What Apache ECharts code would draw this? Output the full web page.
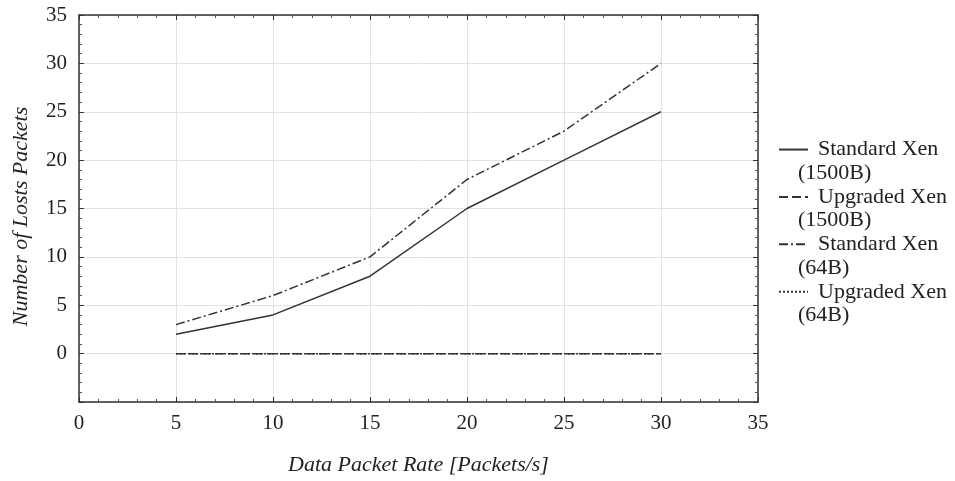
<!DOCTYPE html>
<html><head><meta charset="utf-8">
<script src="https://cdn.jsdelivr.net/npm/echarts@6/dist/echarts.min.js"></script>
<style>html,body{margin:0;padding:0;background:#fff}#c{width:955px;height:481px}</style>
</head><body><div id="c"></div>
<script>
const xValues = [5, 10, 15, 20, 25, 30];
const standard1500 = [2, 4, 8, 15, 20, 25];
const upgraded1500 = [0, 0, 0, 0, 0, 0];
const standard64 = [3, 6, 10, 18, 23, 30];
const upgraded64 = [0, 0, 0, 0, 0, 0];
const seriesNames = ['Standard Xen (1500B)', 'Upgraded Xen (1500B)', 'Standard Xen (64B)', 'Upgraded Xen (64B)'];
const xTitle = 'Data Packet Rate [Packets/s]';
const yTitle = 'Number of Losts Packets';

const FONT = 'Liberation Serif';
const lineColor = '#333333';
const pair = arr => xValues.map((x, i) => [x, arr[i]]);
const dashTypes = ['solid', [9, 4], [9, 3, 2, 3], [2, 2]];
const datas = [standard1500, upgraded1500, standard64, upgraded64];
const LH = 23.7;

const axisCommon = {
  axisLine: {show: true, onZero: false, lineStyle: {color: '#333', width: 1.5}},
  axisTick: {show: true, inside: true, length: 5, lineStyle: {color: '#333'}},
  minorTick: {show: true, splitNumber: 5, length: 3, lineStyle: {color: '#555'}},
  splitLine: {show: false},
  axisLabel: {show: false}
};

const chart = echarts.init(document.getElementById('c'));
chart.setOption({
  backgroundColor: '#fff',
  animation: false,
  grid: {left: 79, right: 197, top: 15, bottom: 78},
  legend: {
    orient: 'vertical', left: 773, top: 109,
    itemWidth: 29, itemHeight: 14, itemGap: -LH,
    itemStyle: {opacity: 0},
    formatter: name => {
      const k = name.lastIndexOf(' (');
      return '\n{a|' + name.slice(0, k) + '}\n{b|' + name.slice(k + 1) + '}';
    },
    textStyle: {
      fontFamily: FONT, fontSize: 22, color: '#222', lineHeight: LH,
      rich: {
        a: {fontFamily: FONT, fontSize: 22, color: '#222', lineHeight: LH, padding: [0, 0, 0, 5]},
        b: {fontFamily: FONT, fontSize: 22, color: '#222', lineHeight: LH, padding: [0, 0, 0, -15]}
      }
    },
    data: seriesNames
  },
  xAxis: [
    Object.assign({}, axisCommon, {
      type: 'value', min: 0, max: 35, interval: 5, position: 'bottom',
      name: xTitle, nameLocation: 'middle', nameGap: 52,
      nameTextStyle: {fontFamily: FONT, fontStyle: 'italic', fontSize: 22, color: '#222'},
      axisLabel: {show: true, fontFamily: FONT, fontSize: 21, color: '#222', margin: 11},
      splitLine: {show: true, lineStyle: {color: '#e2e2e2', width: 1}}
    }),
    Object.assign({}, axisCommon, {type: 'value', min: 0, max: 35, interval: 5, position: 'top'})
  ],
  yAxis: [
    Object.assign({}, axisCommon, {
      type: 'value', min: -5, max: 35, interval: 5, position: 'left',
      name: yTitle, nameLocation: 'middle', nameGap: 47,
      nameTextStyle: {fontFamily: FONT, fontStyle: 'italic', fontSize: 22, color: '#222', padding: [0, 16, 0, 0]},
      axisLabel: {show: true, fontFamily: FONT, fontSize: 21, color: '#222', margin: 12,
        formatter: v => (v < 0 ? '' : String(v))},
      splitLine: {show: true, lineStyle: {color: '#e2e2e2', width: 1}}
    }),
    Object.assign({}, axisCommon, {type: 'value', min: -5, max: 35, interval: 5, position: 'right'})
  ],
  series: seriesNames.map((n, i) => ({
    name: n, type: 'line', data: pair(datas[i]),
    showSymbol: false, symbol: 'none',
    lineStyle: {color: lineColor, width: 1.5, type: dashTypes[i]},
    itemStyle: {color: lineColor}
  }))
});
</script></body></html>
